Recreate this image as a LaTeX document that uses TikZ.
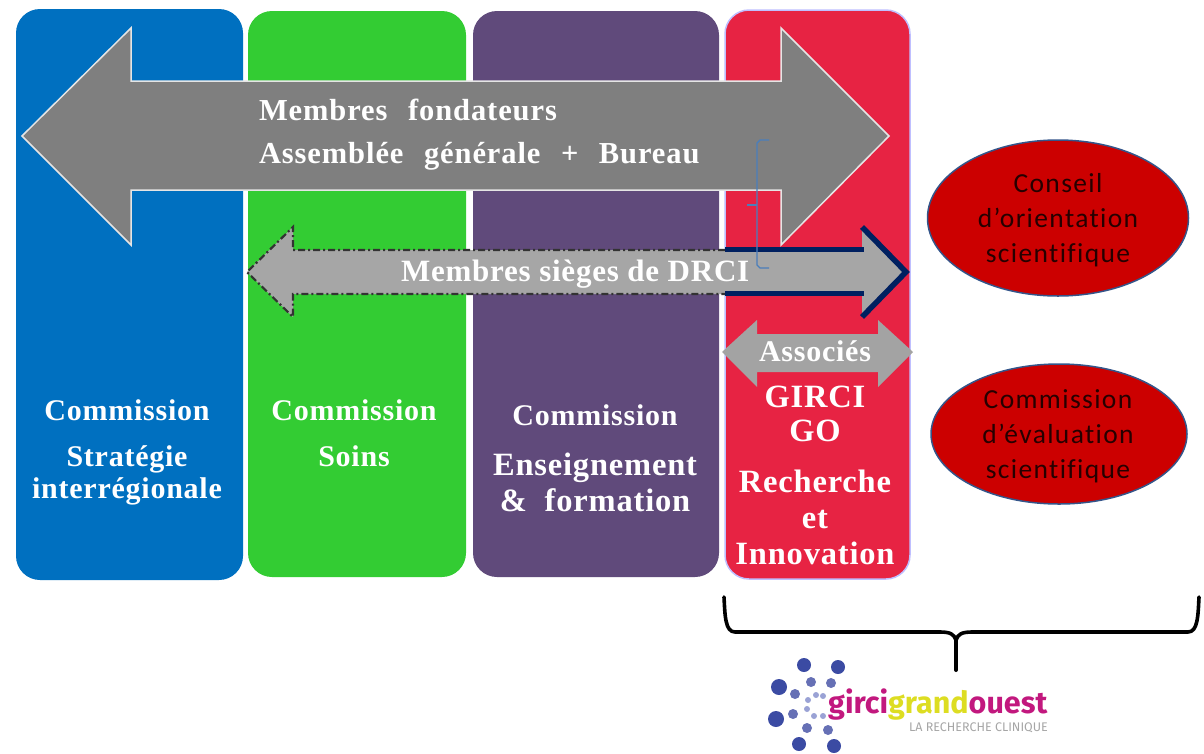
\documentclass[tikz,border=0pt]{standalone}
\usepackage{fontspec}
\setmainfont{Liberation Serif}[LetterSpace=2.5,WordSpace=1]
\newfontfamily\widefont{Liberation Serif}[LetterSpace=3,WordSpace=2.4]
\newfontfamily\ellfont{Carlito}[LetterSpace=5,Ligatures=NoCommon]
\newfontfamily\logofont{Fira Sans}
\usetikzlibrary{shapes.geometric}
\definecolor{colblue}{HTML}{0070C0}
\definecolor{colgreen}{HTML}{33CC33}
\definecolor{colpurple}{HTML}{604A7B}
\definecolor{colred}{HTML}{E72343}
\definecolor{ellred}{HTML}{CC0000}
\definecolor{ellline}{HTML}{34558A}
\definecolor{navy}{HTML}{002060}
\definecolor{brk}{HTML}{4A7EBB}
\definecolor{arrowA}{HTML}{7F7F7F}
\definecolor{arrowB}{HTML}{A6A6A6}
\definecolor{arrowC}{HTML}{A3A3A3}
\definecolor{logoblue}{HTML}{3B4BA3}
\definecolor{logomid}{HTML}{6670B5}
\definecolor{logolow}{HTML}{9AA2D5}
\definecolor{logomag}{HTML}{C2187E}
\definecolor{logoyel}{HTML}{DDDD22}
\tikzset{
  colbox/.style={rounded corners=24pt,inner sep=0pt,outer sep=0pt},
  lbl/.style={text=white,font=\fontsize{30}{32}\selectfont\bfseries,inner sep=0pt,outer sep=0pt,anchor=base},
  lblbig/.style={lbl,font=\fontsize{32.5}{34}\selectfont\bfseries},
  lblleft/.style={lbl,anchor=base west},
  wide/.style={lblleft,font=\fontsize{30.5}{32}\widefont\bfseries},
  elltext/.style={text=black!85!red,font=\fontsize{27.5}{35}\ellfont,align=center,inner sep=0pt},
  oval/.style={ellipse,fill=ellred,draw=ellline,line width=1.5pt,inner sep=0pt,outer sep=0pt},
  dotA/.style={circle,fill=logoblue,minimum size=14pt,inner sep=0pt},
  dotB/.style={circle,fill=logomid,minimum size=10pt,inner sep=0pt},
  dotC/.style={circle,fill=logolow,minimum size=6pt,inner sep=0pt},
  brace/.style={line width=3.6pt,line cap=round,line join=round,draw=black}
}
\begin{document}
\begin{tikzpicture}[x=1pt,y=-1pt]
\useasboundingbox (0,0) rectangle (1204,753);
% columns
\fill[colbox,fill=colblue] (16,9) rectangle (243,580);
\fill[colbox,fill=colgreen] (248,11) rectangle (466,577);
\fill[colbox,fill=colpurple] (473,11) rectangle (719,577);
\draw[colbox,fill=colred,draw=blue!25!white,line width=1.5pt] (725,10) rectangle (910,579);
% large arrow
\draw[fill=arrowA,draw=white!80!gray,line width=1.5pt,line join=miter]
  (22,136) -- (131,28) -- (131,81) -- (781,81) -- (781,28) -- (889,136) -- (781,245) -- (781,190) -- (131,190) -- (131,245) -- cycle;
% DRCI arrow
\fill[arrowB] (247,272) -- (293,227) -- (293,250) -- (862,250) -- (862,227) -- (907,272) -- (862,317) -- (862,294) -- (293,294) -- (293,317) -- cycle;
\draw[black!80,line width=2.2pt,dash pattern=on 7pt off 3pt on 2pt off 3pt]
  (725,250) -- (293,250) -- (293,227) -- (247,272) -- (293,317) -- (293,294) -- (725,294);
\draw[navy,line width=5pt,line join=miter] (725,249) -- (864,249);
\draw[navy,line width=5pt,line join=miter] (725,293) -- (864,293);
\draw[navy,line width=5.5pt,line join=miter] (862,227) -- (906,272) -- (862,317);
% bracket
\coordinate (bt) at (769,140);
\coordinate (bb) at (769,268);
\coordinate (bm) at (747,205);
\coordinate (bc) at (757,205);
\draw[brk,line width=1.4pt] (bt) -- (760,140) -- (757,143) -- (757,265) -- (760,268) -- (bb);
\draw[brk,line width=1.4pt] (bm) -- (bc);
% associés arrow
\fill[arrowC] (722,352) -- (757,320) -- (757,334) -- (878,334) -- (878,320) -- (913,352) -- (878,387) -- (878,372) -- (757,372) -- (757,387) -- cycle;
% arrow labels
\node[wide] (mf) at (259,120) {Membres fondateurs};
\node[wide] (ag) at (259,163) {Assemblée générale + Bureau};
\node[lblleft,font=\fontsize{31}{32}\selectfont\bfseries] (ms) at (401,281) {Membres sièges de DRCI};
\node[lbl,font=\fontsize{30}{32}\selectfont\bfseries] (as) at (815,361) {Associés};
% column labels
\node[lbl] (c1a) at (127,420) {Commission};
\node[lbl] (c1b) at (127,466) {Stratégie};
\node[lbl] (c1c) at (127,498) {interrégionale};
\node[lbl] (c2a) at (354,420) {Commission};
\node[lbl] (c2b) at (354,466) {Soins};
\node[lbl] (c3a) at (595,425) {Commission};
\node[lblbig] (c3b) at (595,475) {Enseignement};
\node[lblbig] (c3c) at (595,511) {\&\ \ formation};
\node[lblbig] (c4a) at (815,407) {GIRCI};
\node[lblbig] (c4b) at (815,441) {GO};
\node[lblbig] (c4c) at (815,492) {Recherche};
\node[lblbig] (c4d) at (815,528) {et};
\node[lblbig] (c4e) at (815,564) {Innovation};
% ellipses
\node[oval,minimum width=261pt,minimum height=156pt] (e1) at (1058,218) {};
\node[elltext] (e1t) at (1058,220) {Conseil\\d’orientation\\scientifique};
\node[oval,minimum width=256pt,minimum height=140pt] (e2) at (1059,434) {};
\node[elltext] (e2t) at (1058,436) {Commission\\d’évaluation\\scientifique};
% brace
\coordinate (bl) at (724,597);
\coordinate (br) at (1199,597);
\coordinate (bs) at (956,670);
\draw[brace] (bl) .. controls (725,615) and (725,632) .. (735,632) -- (940,632) .. controls (950,632) and (954,634) .. (956,640) .. controls (958,634) and (962,632) .. (972,632) -- (1188,632) .. controls (1198,632) and (1198,615) .. (br);
\draw[brace,line width=4pt] (956,638) -- (bs);
% logo
\node[dotA] (d1) at (804,665) {};
\node[dotA] (d2) at (838,667) {};
\node[dotA,minimum width=16pt,minimum height=13pt] (d3) at (779,687) {};
\node[dotA,minimum width=16pt,minimum height=13pt] (d4) at (776,719) {};
\node[dotA] (d5) at (799,744) {};
\node[dotA] (d6) at (834,746) {};
\node[dotB] (d7) at (811,682) {};
\node[dotB] (d8) at (831,683) {};
\node[dotB] (d9) at (795,694) {};
\node[dotB] (d10) at (793,714) {};
\node[dotB] (d11) at (807,728) {};
\node[dotB] (d12) at (828,730) {};
\node[dotC] (d13) at (816,695) {};
\node[dotC] (d14) at (823,696) {};
\node[dotC] (d15) at (808,700) {};
\node[dotC] (d16) at (807,709) {};
\node[dotC] (d17) at (814,716) {};
\node[dotC] (d18) at (823,716) {};
\node[inner sep=0pt,anchor=base west,font=\fontsize{30.5}{36}\logofont\bfseries] (logo) at (828,713)
  {\textcolor{logomag}{girci}\textcolor{logoyel}{grand}\textcolor{logomag}{ouest}};
\node[inner sep=0pt,anchor=base east,text=gray!70,font=\fontsize{12.5}{13}\logofont] (tag) at (1048,731) {LA RECHERCHE CLINIQUE};
\end{tikzpicture}
\end{document}
